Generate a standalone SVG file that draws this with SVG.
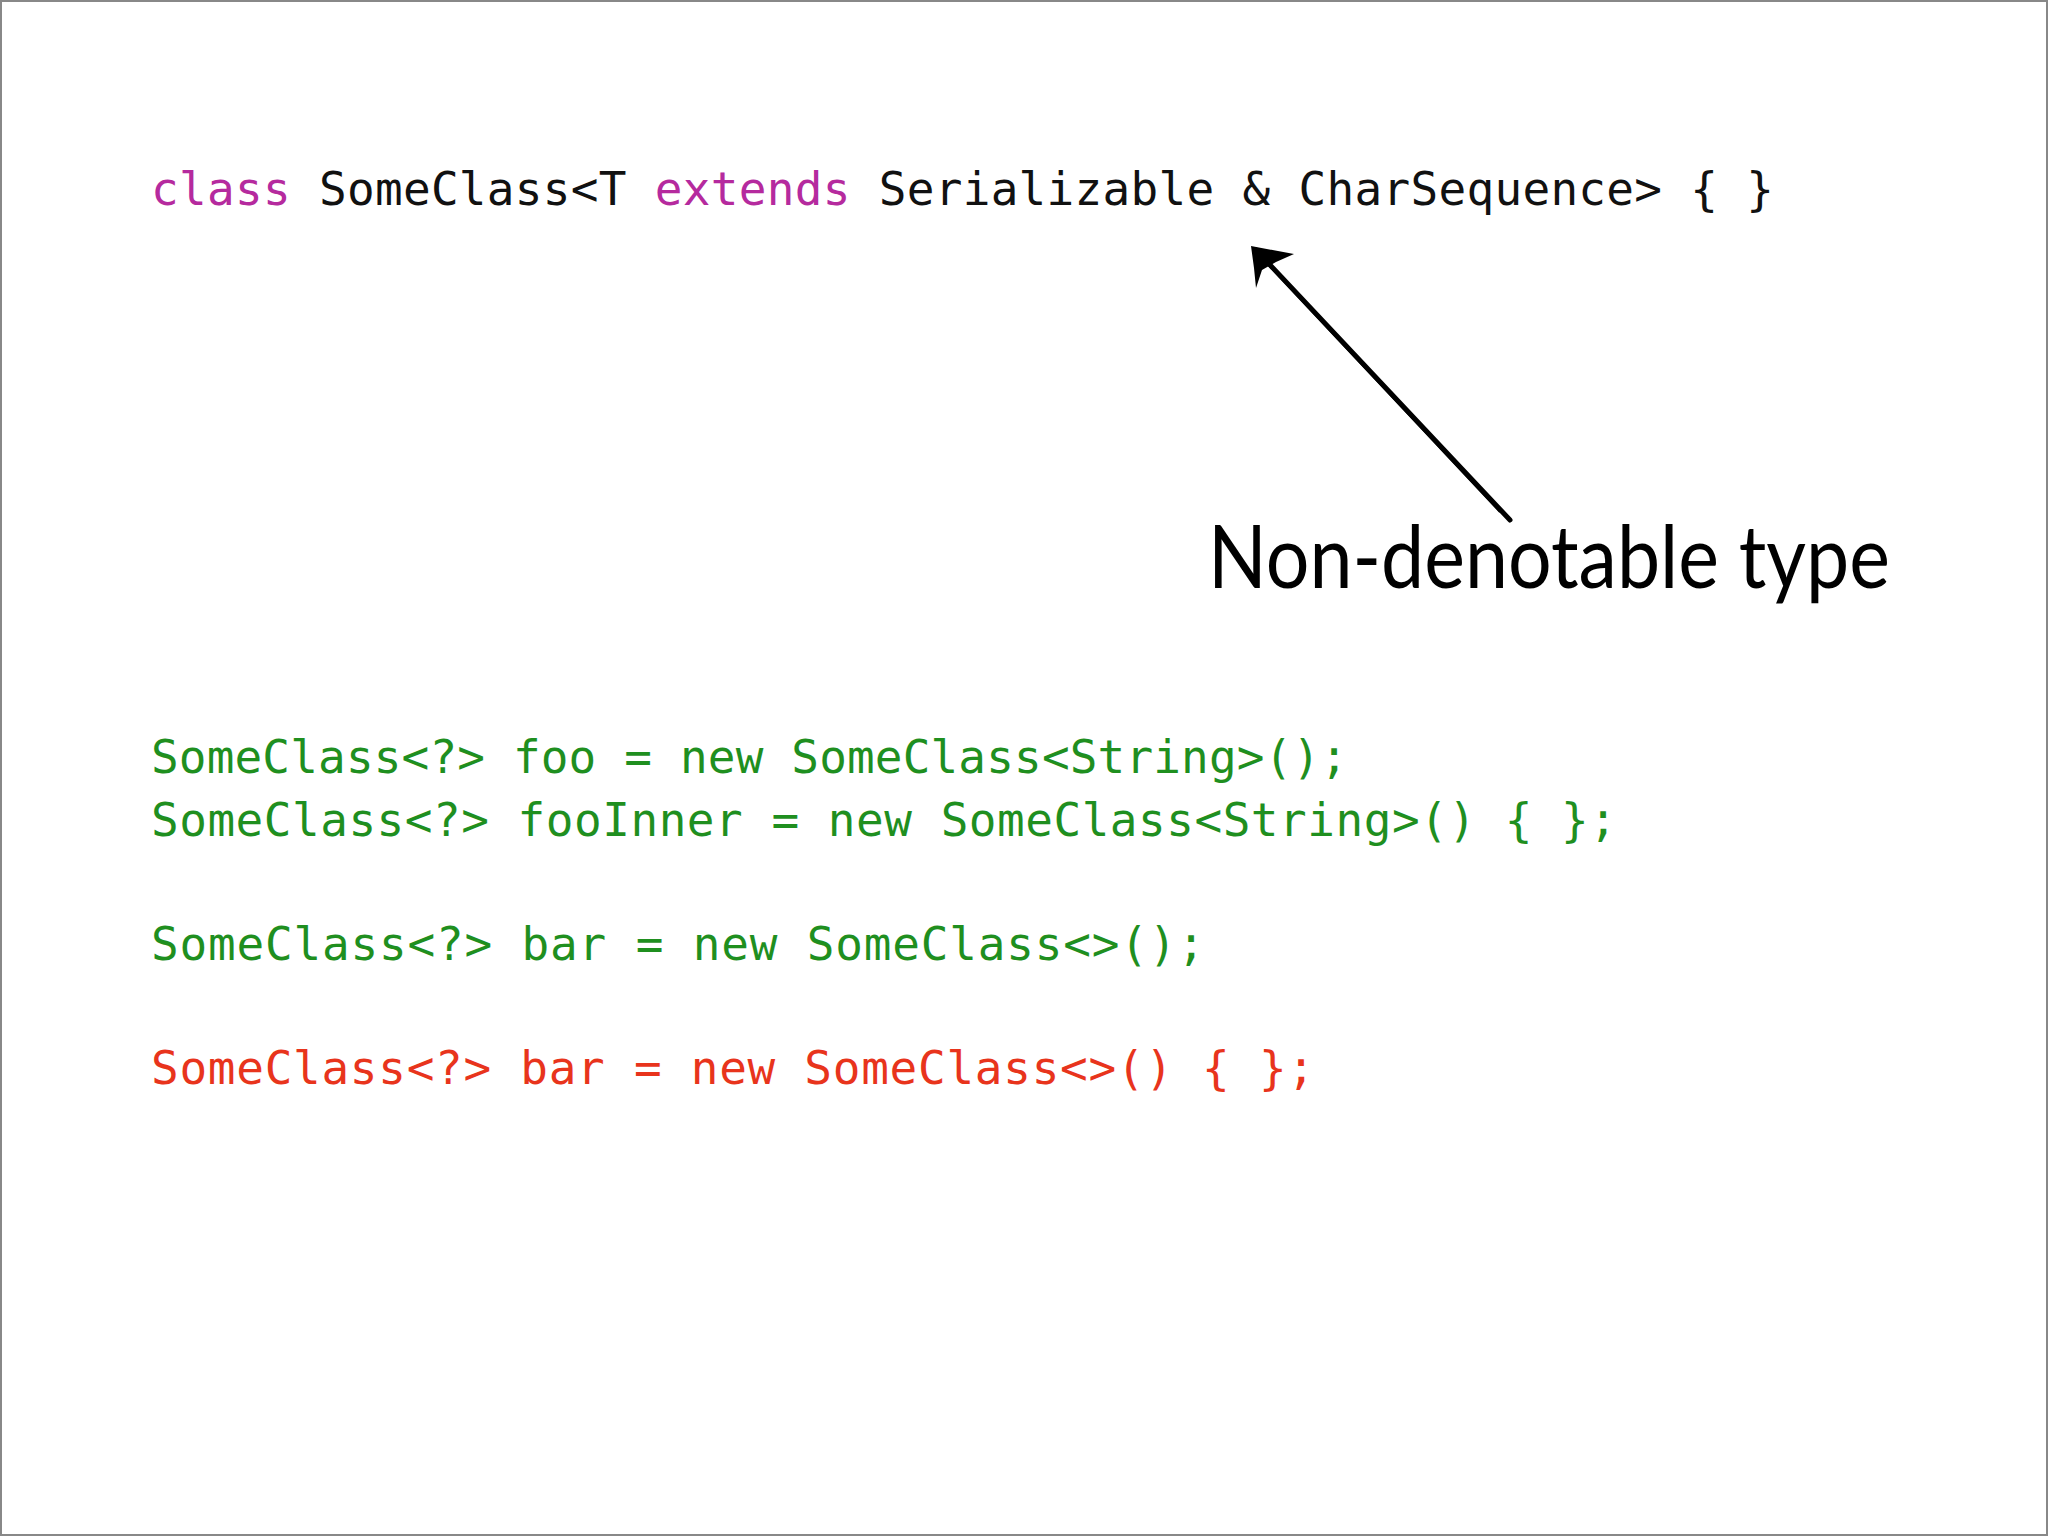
<svg xmlns="http://www.w3.org/2000/svg" width="2048" height="1536" viewBox="0 0 2048 1536">
<style>
.c{font-family:"DejaVu Sans Mono","Liberation Mono",monospace;font-size:46px}
.k{fill:#b52a9e}.b{fill:#111}.g{fill:#1f8f1f}.r{fill:#e8341c}
</style>
<rect x="1" y="1" width="2046" height="1534" fill="#fff" stroke="#888" stroke-width="2"/>
<g id="code1"><text class="c" x="151" y="205" textLength="1623" lengthAdjust="spacing"><tspan class="k">class</tspan><tspan class="b"> SomeClass&lt;T </tspan><tspan class="k">extends</tspan><tspan class="b"> Serializable &amp; CharSequence&gt; { }</tspan></text></g>
<g id="code2">
<text class="c g" x="151" y="773" textLength="1197" lengthAdjust="spacing">SomeClass&lt;?&gt; foo = new SomeClass&lt;String&gt;();</text>
<text class="c g" x="151" y="836" textLength="1466" lengthAdjust="spacing">SomeClass&lt;?&gt; fooInner = new SomeClass&lt;String&gt;() { };</text>
<text class="c g" x="151" y="960" textLength="1054" lengthAdjust="spacing">SomeClass&lt;?&gt; bar = new SomeClass&lt;&gt;();</text>
<text class="c r" x="151" y="1084" textLength="1164" lengthAdjust="spacing">SomeClass&lt;?&gt; bar = new SomeClass&lt;&gt;() { };</text>
</g>
<g id="label"><text x="1208" y="588" font-family="Lato,'Liberation Sans',sans-serif" font-size="88" fill="#000" textLength="682" lengthAdjust="spacingAndGlyphs">Non-denotable type</text></g>
<g id="connectors">
<path d="M1510,520 L1256,250" stroke="#000" stroke-width="5" fill="none" stroke-linecap="round"/>
<path d="M1500,512 L1262,258" stroke="#000" stroke-width="2" fill="none"/>
<polygon points="1251,246 1294,254 1276,262 1262,270 1256,288 1254,268" fill="#000"/>
</g>
</svg>
